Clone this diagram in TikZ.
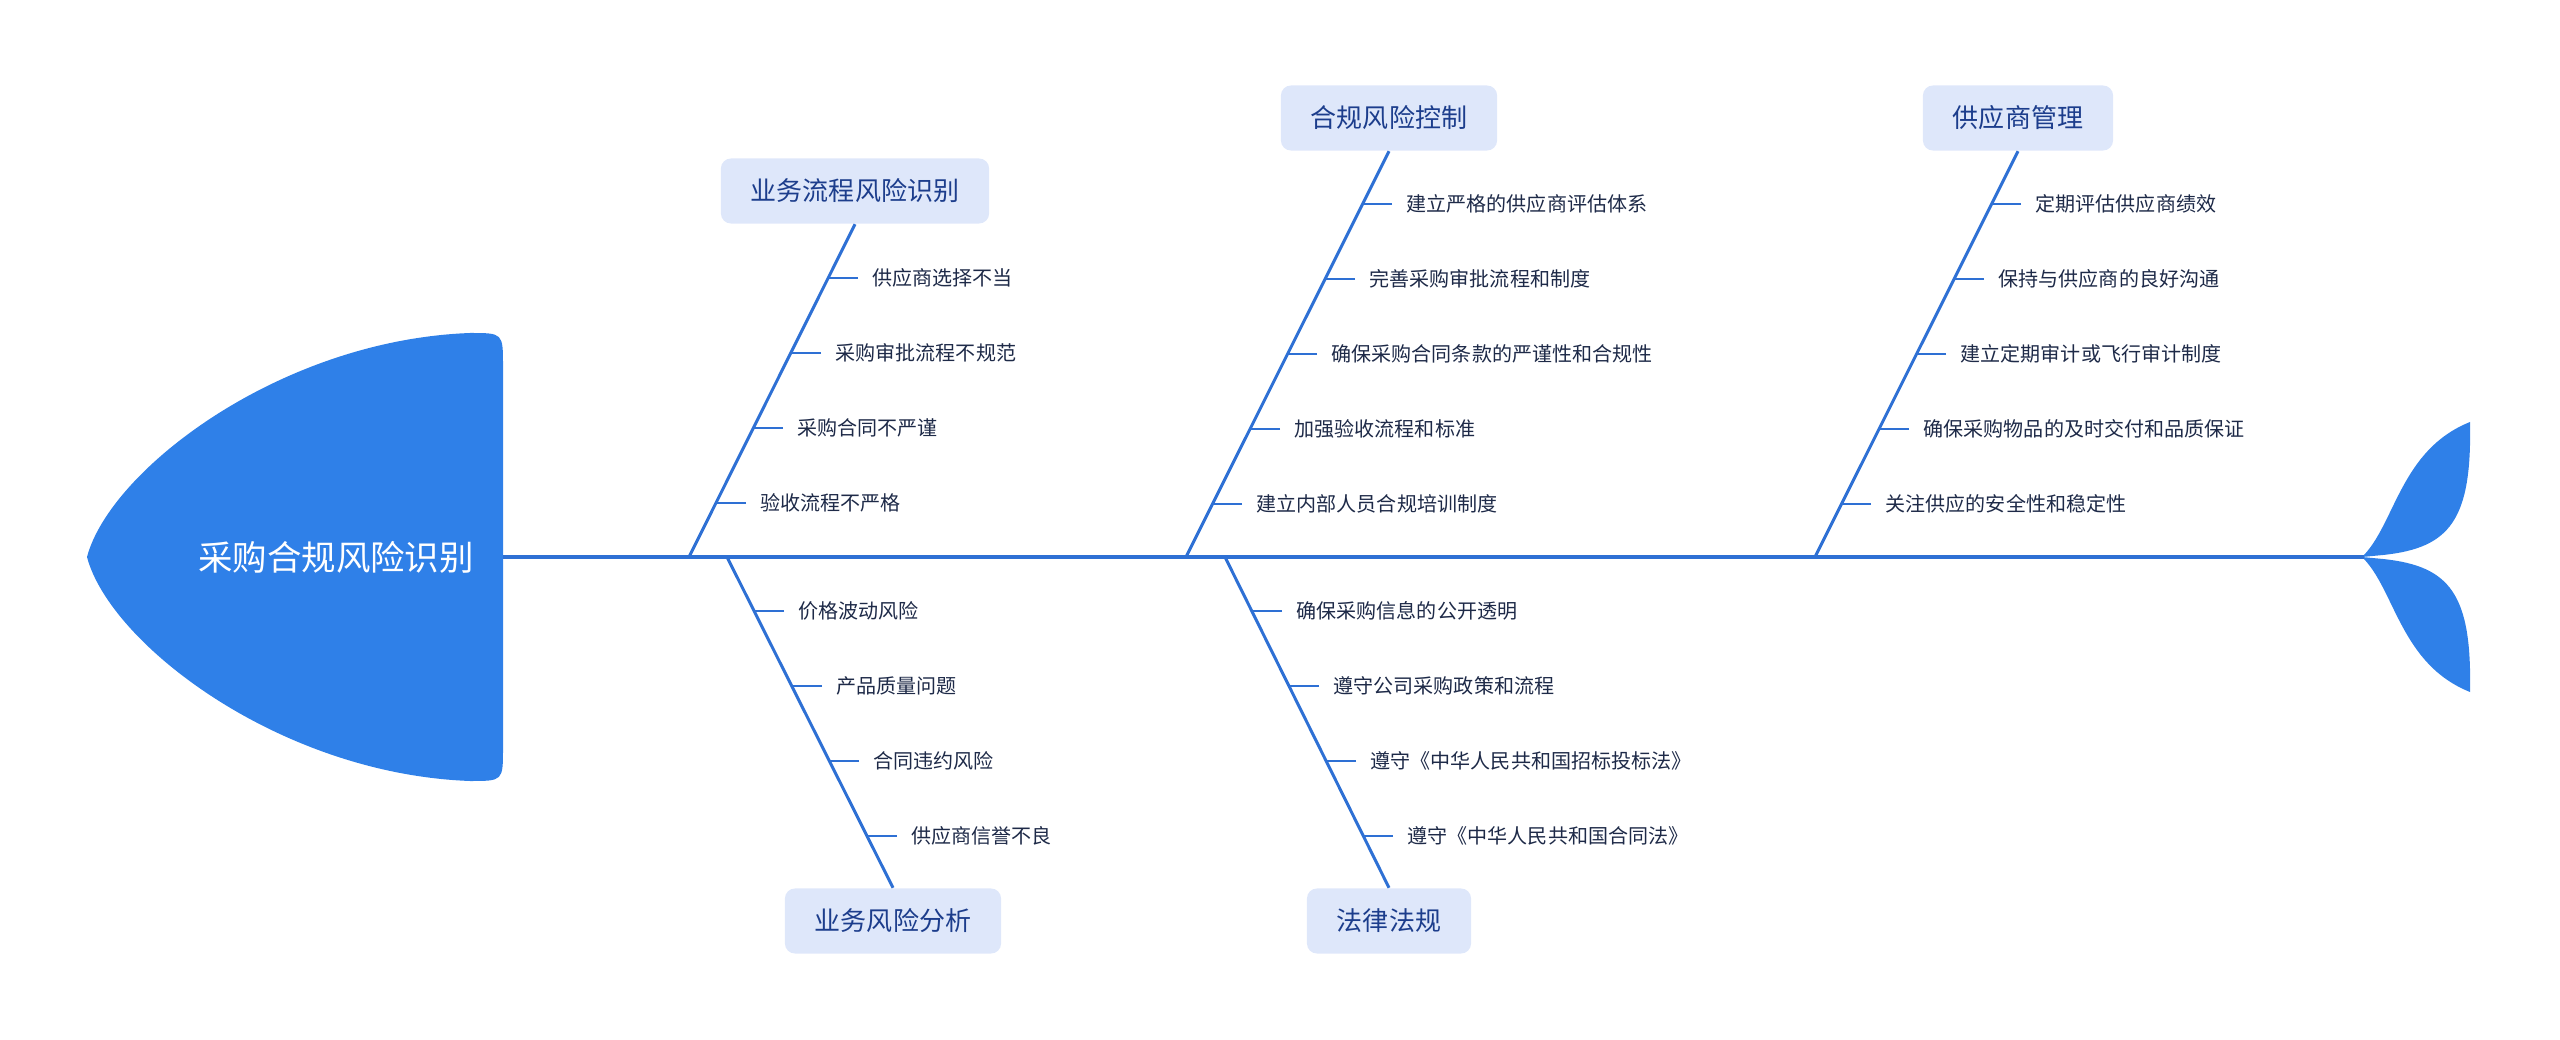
\documentclass[tikz,border=0pt]{standalone}
\usepackage{fontspec}
\setmainfont{Noto Sans CJK SC}
\usetikzlibrary{positioning}
\definecolor{fishblue}{HTML}{2F80E8}
\definecolor{bonec}{HTML}{2E70D4}
\definecolor{boxfill}{HTML}{DEE7FA}
\definecolor{boxtext}{HTML}{1C3D8C}
\definecolor{leaftext}{HTML}{1E2A48}

\begin{document}
\begin{tikzpicture}[x=0.01cm,y=-0.01cm,
  cat/.style={fill=boxfill,rounded corners=0.1cm,inner xsep=0.3cm,minimum height=0.65cm,
    text=boxtext,font=\fontsize{7.4pt}{8pt}\selectfont},
  leaf/.style={anchor=west,inner xsep=0.14cm,inner ysep=0pt,text=leaftext,
    font=\fontsize{5.7pt}{6.5pt}\selectfont},
  bone/.style={draw=bonec,line width=0.85pt},
  twig/.style={draw=bonec,line width=0.85pt}]
  \useasboundingbox (0,0) rectangle (2560,1040);
  % head and tail
  \fill[fishblue] (87,557) .. controls (110,470) and (280,340) .. (470,333)
    .. controls (503,333) .. (503,366) -- (503,748) .. controls (503,781) .. (470,781)
    .. controls (280,774) and (110,644) .. (87,557) -- cycle;
  \node[text=white,font=\fontsize{9.8pt}{11pt}\selectfont] (head) at (336,557) {采购合规风险识别};
  \fill[fishblue] (2362,557) .. controls (2395,525) and (2400,450) .. (2470,422)
    .. controls (2472,520) and (2450,548) .. (2383,555) -- cycle;
  \fill[fishblue] (2362,557) .. controls (2395,589) and (2400,664) .. (2470,692)
    .. controls (2472,594) and (2450,566) .. (2383,559) -- cycle;
  \coordinate (sL) at (503,557); \coordinate (sR) at (2364,557);
  \draw[bonec,line width=1.1pt] (sL) -- (sR);
  \coordinate (j1) at (689,557); \coordinate (j2) at (1186,557); \coordinate (j3) at (1815,557);
  \coordinate (k1) at (727,557); \coordinate (k2) at (1225,557);
  % upper bones
  \node[cat] (b1) at (855,191) {业务流程风险识别};
  \node[cat] (b2) at (1389,118) {合规风险控制};
  \node[cat] (b3) at (2018,118) {供应商管理};
  \draw[bone] (b1.south) -- (j1);
  \draw[bone] (b2.south) -- (j2);
  \draw[bone] (b3.south) -- (j3);
  \node[leaf] (a1) at (858,278) {供应商选择不当};   \draw[twig] (a1.west) -- ++(-30,0);
  \node[leaf] (a2) at (821,353) {采购审批流程不规范}; \draw[twig] (a2.west) -- ++(-30,0);
  \node[leaf] (a3) at (783,428) {采购合同不严谨};   \draw[twig] (a3.west) -- ++(-30,0);
  \node[leaf] (a4) at (746,503) {验收流程不严格};   \draw[twig] (a4.west) -- ++(-30,0);
  \node[leaf] (c1) at (1392,204) {建立严格的供应商评估体系};     \draw[twig] (c1.west) -- ++(-30,0);
  \node[leaf] (c2) at (1355,279) {完善采购审批流程和制度};       \draw[twig] (c2.west) -- ++(-30,0);
  \node[leaf] (c3) at (1317,354) {确保采购合同条款的严谨性和合规性}; \draw[twig] (c3.west) -- ++(-30,0);
  \node[leaf] (c4) at (1280,429) {加强验收流程和标准};           \draw[twig] (c4.west) -- ++(-30,0);
  \node[leaf] (c5) at (1242,504) {建立内部人员合规培训制度};     \draw[twig] (c5.west) -- ++(-30,0);
  \node[leaf] (g1) at (2021,204) {定期评估供应商绩效};           \draw[twig] (g1.west) -- ++(-30,0);
  \node[leaf] (g2) at (1984,279) {保持与供应商的良好沟通};       \draw[twig] (g2.west) -- ++(-30,0);
  \node[leaf] (g3) at (1946,354) {建立定期审计或飞行审计制度};   \draw[twig] (g3.west) -- ++(-30,0);
  \node[leaf] (g4) at (1909,429) {确保采购物品的及时交付和品质保证}; \draw[twig] (g4.west) -- ++(-30,0);
  \node[leaf] (g5) at (1871,504) {关注供应的安全性和稳定性};     \draw[twig] (g5.west) -- ++(-30,0);
  % lower bones
  \node[cat] (d1) at (893,921) {业务风险分析};
  \node[cat] (d2) at (1389,921) {法律法规};
  \draw[bone] (k1) -- (d1.north);
  \draw[bone] (k2) -- (d2.north);
  \node[leaf] (e1) at (784,611) {价格波动风险};   \draw[twig] (e1.west) -- ++(-30,0);
  \node[leaf] (e2) at (822,686) {产品质量问题};   \draw[twig] (e2.west) -- ++(-30,0);
  \node[leaf] (e3) at (859,761) {合同违约风险};   \draw[twig] (e3.west) -- ++(-30,0);
  \node[leaf] (e4) at (897,836) {供应商信誉不良}; \draw[twig] (e4.west) -- ++(-30,0);
  \node[leaf] (f1) at (1282,611) {确保采购信息的公开透明};         \draw[twig] (f1.west) -- ++(-30,0);
  \node[leaf] (f2) at (1319,686) {遵守公司采购政策和流程};         \draw[twig] (f2.west) -- ++(-30,0);
  \node[leaf] (f3) at (1356,761) {遵守《中华人民共和国招标投标法》}; \draw[twig] (f3.west) -- ++(-30,0);
  \node[leaf] (f4) at (1393,836) {遵守《中华人民共和国合同法》};     \draw[twig] (f4.west) -- ++(-30,0);
\end{tikzpicture}
\end{document}
